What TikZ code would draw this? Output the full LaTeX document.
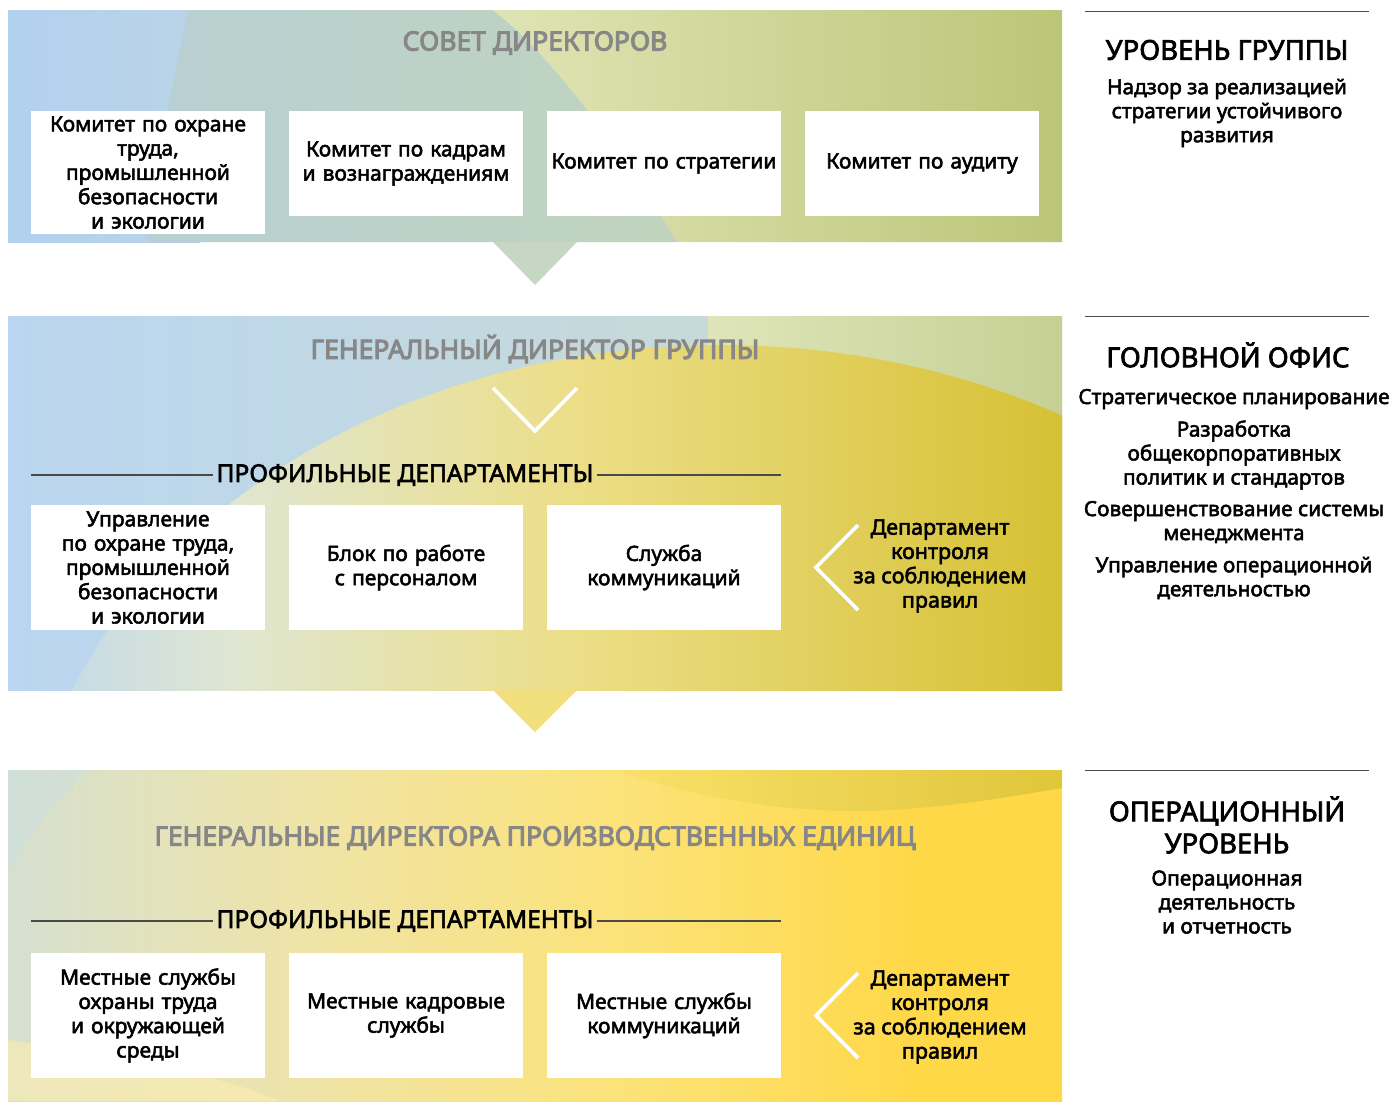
\documentclass[tikz,border=0pt]{standalone}
\usepackage{fontspec}
\setmainfont{Noto Sans}
\newfontfamily\medf{Noto Sans}[FakeBold=2.5]
\newfontfamily\boldf{Noto Sans}[FakeBold=4]
\usetikzlibrary{positioning}
\definecolor{ttlgray}{HTML}{878787}
\definecolor{rulegray}{HTML}{4A4A4A}
% band 1
\definecolor{aBlueL}{RGB}{178,209,239}
\definecolor{aBlueR}{RGB}{186,211,232}
\definecolor{aMidL}{RGB}{184,207,212}
\definecolor{aMidR}{RGB}{192,212,188}
\definecolor{aRgtL}{RGB}{224,228,181}
\definecolor{aRgtR}{RGB}{187,198,120}
\definecolor{aTri}{RGB}{198,216,196}
% band 2
\definecolor{bL}{RGB}{186,214,240}
\definecolor{bM}{RGB}{210,228,242}
\definecolor{bR}{RGB}{206,220,205}
\definecolor{bTRL}{RGB}{223,229,185}
\definecolor{bTRR}{RGB}{198,208,148}
\definecolor{bDomeA}{RGB}{190,216,238}
\definecolor{bDomeB}{RGB}{224,230,208}
\definecolor{bDomeM}{RGB}{236,222,135}
\definecolor{bDomeR}{RGB}{214,193,52}
\definecolor{bTri}{RGB}{241,222,125}
% band 3
\definecolor{cA}{RGB}{214,224,208}
\definecolor{cB}{RGB}{240,228,165}
\definecolor{cC}{RGB}{252,226,118}
\definecolor{cD}{RGB}{255,216,72}
\definecolor{cBlue}{RGB}{205,223,228}
\definecolor{cPale}{RGB}{253,238,175}
\definecolor{cArcL}{RGB}{250,224,105}
\definecolor{cArcR}{RGB}{224,198,58}
\pgfdeclarehorizontalshading{domeshade}{100bp}{color(0bp)=(bDomeA); color(25bp)=(bDomeA); color(36bp)=(bDomeB); color(52bp)=(bDomeM); color(75bp)=(bDomeR); color(100bp)=(bDomeR)}
\pgfdeclarehorizontalshading{opshade}{100bp}{color(0bp)=(cA); color(25bp)=(cA); color(40bp)=(cB); color(55bp)=(cC); color(68bp)=(cD); color(100bp)=(cD)}
\tikzset{
  wbox/.style={fill=white, minimum width=234pt, inner sep=0pt, align=center,
    font=\medf\fontsize{21}{24.3}\selectfont, text width=232pt},
  bandtitle/.style={text=ttlgray, font=\boldf\fontsize{26.5}{30}\selectfont, inner sep=0pt},
  proftitle/.style={font=\medf\fontsize{24.5}{28}\selectfont, inner sep=3pt},
  profrule/.style={draw=rulegray, line width=1.1pt},
  chev/.style={draw=white, line width=3.6pt, miter limit=10},
  sidehead/.style={font=\medf\fontsize{27.5}{32}\selectfont, align=center, inner sep=0pt},
  sidetext/.style={font=\medf\fontsize{20.8}{24}\selectfont, align=center, inner sep=0pt},
  siderule/.style={draw=rulegray, line width=0.8pt},
  ctltext/.style={font=\medf\fontsize{21.5}{24.3}\selectfont, align=center, inner sep=0pt},
}
\begin{document}
\begin{tikzpicture}[x=1pt,y=-1pt]
\useasboundingbox (0,0) rectangle (1390,1101);
\fill[white] (0,0) rectangle (1390,1101);

% ---------- Band 1 ----------
\shade[left color=aBlueL, right color=aBlueR] (8,10) rectangle (200,242);
\shade[left color=aMidL, right color=aMidR]
  (188,10) .. controls (172,90) and (155,170) .. (147,242) -- (678,242) .. controls (600,120) and (545,50) .. (493,10) -- cycle;
\shade[left color=aRgtL, right color=aRgtR]
  (493,10) .. controls (545,50) and (600,120) .. (678,242) -- (1062,242) -- (1062,10) -- cycle;
\fill[aTri] (493,242) -- (577,242) -- (535,285) -- cycle;

\node[bandtitle] (t1) at (535,43) {СОВЕТ ДИРЕКТОРОВ};
\node[wbox, minimum height=123pt] (c1) at (148,172.5) {Комитет по охране\\труда,\\промышленной\\безопасности\\и экологии};
\node[wbox, minimum height=105pt] (c2) at (406,163.5) {Комитет по кадрам\\и вознаграждениям};
\node[wbox, minimum height=105pt] (c3) at (664,163.5) {Комитет по стратегии};
\node[wbox, minimum height=105pt] (c4) at (922,163.5) {Комитет по аудиту};

% ---------- Band 2 ----------
\shade[left color=bL, middle color=bM, right color=bR] (8,316) rectangle (1062,690);
\shade[left color=bTRL, right color=bTRR] (708,316) rectangle (1062,690);
\begin{scope}
  \clip (8,316) rectangle (1062,690);
  \clip (720,900) ellipse [x radius=700, y radius=555];
  \shade[shading=domeshade] (8,316) rectangle (1062,690);
\end{scope}
\fill[bTri] (493,690) -- (577,690) -- (535,732) -- cycle;

\node[bandtitle] (t2) at (535,349) {ГЕНЕРАЛЬНЫЙ ДИРЕКТОР ГРУППЫ};
\draw[chev] (493,388) -- (535,431) -- (577,388);
\node[proftitle] (p2) at (405,475) {ПРОФИЛЬНЫЕ ДЕПАРТАМЕНТЫ};
\coordinate (p2l) at (31,475);
\coordinate (p2r) at (781,475);
\draw[profrule] (p2l) -- (p2.west);
\draw[profrule] (p2.east) -- (p2r);
\node[wbox, minimum height=125pt] (d1) at (148,567.5) {Управление\\по охране труда,\\промышленной\\безопасности\\и экологии};
\node[wbox, minimum height=125pt] (d2) at (406,567.5) {Блок по работе\\с персоналом};
\node[wbox, minimum height=125pt] (d3) at (664,567.5) {Служба\\коммуникаций};
\draw[chev] (858,525) -- (816,567.5) -- (858,610);
\node[ctltext] (k2) at (940,566) {Департамент\\контроля\\за соблюдением\\правил};

% ---------- Band 3 ----------
\shade[shading=opshade] (8,770) rectangle (1062,1101);
\begin{scope}
  \clip (8,770) rectangle (1062,1101);
  \fill[cBlue, opacity=0.5] (8,770) -- (90,770) .. controls (55,800) and (28,835) .. (8,870) -- cycle;
  \fill[cPale, opacity=0.6] (8,1040) .. controls (120,1055) and (220,1075) .. (280,1101) -- (8,1101) -- cycle;
  \shade[left color=cArcL, right color=cArcR]
    (616,770) .. controls (700,800) and (800,815) .. (890,810) .. controls (960,806) and (1020,795) .. (1062,788) -- (1062,770) -- cycle;
\end{scope}

\node[bandtitle] (t3) at (535,838) {ГЕНЕРАЛЬНЫЕ ДИРЕКТОРА ПРОИЗВОДСТВЕННЫХ ЕДИНИЦ};
\node[proftitle] (p3) at (405,921) {ПРОФИЛЬНЫЕ ДЕПАРТАМЕНТЫ};
\coordinate (p3l) at (31,921);
\coordinate (p3r) at (781,921);
\draw[profrule] (p3l) -- (p3.west);
\draw[profrule] (p3.east) -- (p3r);
\node[wbox, minimum height=125pt] (e1) at (148,1015.5) {Местные службы\\охраны труда\\и окружающей\\среды};
\node[wbox, minimum height=125pt] (e2) at (406,1015.5) {Местные кадровые\\службы};
\node[wbox, minimum height=125pt] (e3) at (664,1015.5) {Местные службы\\коммуникаций};
\draw[chev] (858,973) -- (816,1015.5) -- (858,1058);
\node[ctltext] (k3) at (940,1017) {Департамент\\контроля\\за соблюдением\\правил};

% ---------- Right column ----------
\coordinate (r1a) at (1085,11);  \coordinate (r1b) at (1369,11);
\coordinate (r2a) at (1085,316); \coordinate (r2b) at (1369,316);
\coordinate (r3a) at (1085,770); \coordinate (r3b) at (1369,770);
\draw[siderule] (r1a) -- (r1b);
\draw[siderule] (r2a) -- (r2b);
\draw[siderule] (r3a) -- (r3b);

\node[sidehead] (h1) at (1227,50) {УРОВЕНЬ ГРУППЫ};
\node[sidetext] (s1) at (1227,113) {Надзор за реализацией\\стратегии устойчивого\\развития};

\node[sidehead] (h2) at (1228,355) {ГОЛОВНОЙ ОФИС};
\node[sidetext] (s2a) at (1234,399) {Стратегическое планирование};
\node[sidetext] (s2b) at (1234,455) {Разработка\\общекорпоративных\\политик и стандартов};
\node[sidetext] (s2c) at (1234,522) {Совершенствование системы\\менеджмента};
\node[sidetext] (s2d) at (1234,578) {Управление операционной\\деятельностью};

\node[sidehead] (h3) at (1227,825) {ОПЕРАЦИОННЫЙ\\УРОВЕНЬ};
\node[sidetext] (s3) at (1227,902) {Операционная\\деятельность\\и отчетность};
\end{tikzpicture}
\end{document}
